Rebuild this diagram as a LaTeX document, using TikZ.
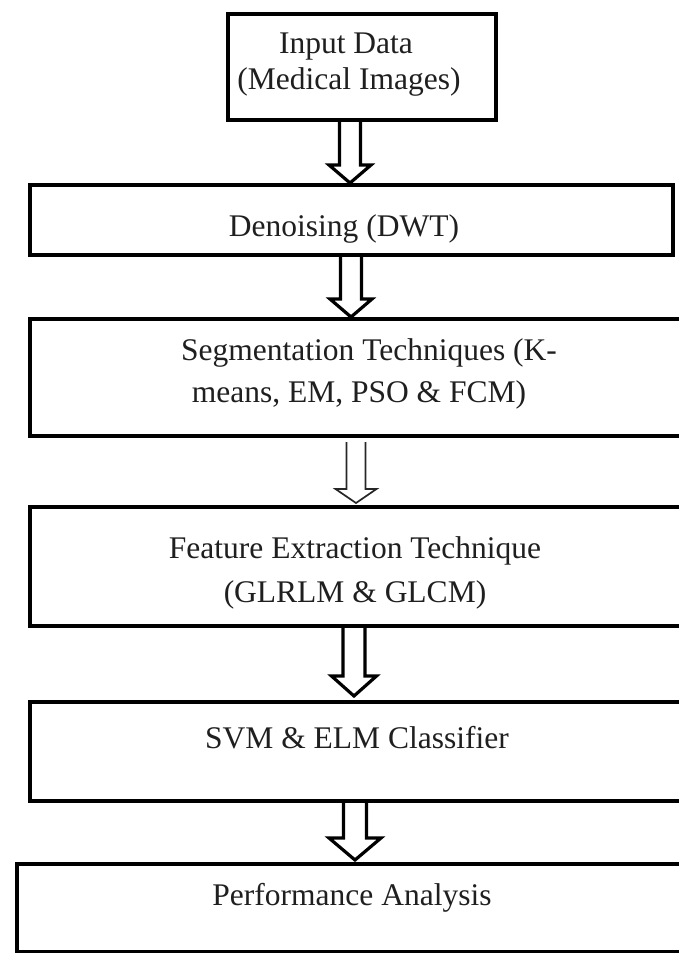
\documentclass[tikz,border=0pt]{standalone}
\usepackage{fontspec}
\setmainfont{Liberation Serif}
\usetikzlibrary{calc}
\newcommand\hollowarrow[6]{%
  \draw[#1] ($(#2)+(-#4,0)$) -- ($(#3)+(-#4,-#6)$) -- ($(#3)+(-#5,-#6)$) -- (#3)
    -- ($(#3)+(#5,-#6)$) -- ($(#3)+(#4,-#6)$) -- ($(#2)+(#4,0)$);}
\begin{document}
\begin{tikzpicture}[x=1pt,y=-1pt,
  box/.style={draw=black, line width=4pt, rectangle, inner sep=0pt},
  lbl/.style={anchor=base, inner sep=0pt, font=\fontsize{31.5}{36}\selectfont, text=black!88},
  boldarr/.style={draw=black, line width=3.2pt, line join=miter},
  thinarr/.style={draw=black!85, line width=1.7pt, line join=miter}]
\useasboundingbox (0,0) rectangle (679,953);
\clip (0,0) rectangle (679,953);
\fill[white] (0,0) rectangle (679,953);

% boxes
\node[box, minimum width=268pt, minimum height=106pt] (b1) at (362,67) {};
\node[box, minimum width=643pt, minimum height=70pt] (b2) at (351.5,220) {};
\node[box, minimum width=665pt, minimum height=117pt] (b3) at (362.5,377.5) {};
\node[box, minimum width=665pt, minimum height=119pt] (b4) at (362.5,566.5) {};
\node[box, minimum width=665pt, minimum height=99pt] (b5) at (362.5,751.5) {};
\node[box, minimum width=678pt, minimum height=88pt] (b6) at (356,908) {};

% texts
\node[lbl] (t1a) at (346,53) {Input Data};
\node[lbl] (t1b) at (349,89) {(Medical Images)};
\node[lbl] (t2) at (344,236) {Denoising (DWT)};
\node[lbl] (t3a) at (369,360) {Segmentation Techniques (K-};
\node[lbl] (t3b) at (359,402) {means, EM, PSO \& FCM)};
\node[lbl] (t4a) at (355,558) {Feature Extraction Technique};
\node[lbl] (t4b) at (355,602) {(GLRLM \& GLCM)};
\node[lbl] (t5) at (357,748) {SVM \& ELM Classifier};
\node[lbl] (t6) at (352,905) {Performance Analysis};

% arrow axes
\coordinate (x1) at (350,0);
\coordinate (x2) at (351,0);
\coordinate (x3) at (356,0);
\coordinate (x4) at (354,0);
\coordinate (x5) at (355,0);

\coordinate (a1s) at (x1 |- b1.south);
\coordinate (a1e) at (x1 |- b2.north);
\coordinate (a2s) at (x2 |- b2.south);
\coordinate (a2e) at (x2 |- b3.north);
\coordinate (a3s) at ($(x3 |- b3.south)+(0,4)$);
\coordinate (a3e) at ($(x3 |- b4.north)+(0,-2)$);
\coordinate (a4s) at (x4 |- b4.south);
\coordinate (a4e) at ($(x4 |- b5.north)+(0,-4)$);
\coordinate (a5s) at (x5 |- b5.south);
\coordinate (a5e) at ($(x5 |- b6.north)+(0,-2)$);

\hollowarrow{boldarr}{a1s}{a1e}{10.5}{21}{18}
\hollowarrow{boldarr}{a2s}{a2e}{10.5}{21}{18}
\hollowarrow{thinarr}{a3s}{a3e}{9.5}{20.5}{14}
\hollowarrow{boldarr}{a4s}{a4e}{11}{22.5}{20}
\hollowarrow{boldarr}{a5s}{a5e}{11.5}{26}{22}
\end{tikzpicture}
\end{document}
